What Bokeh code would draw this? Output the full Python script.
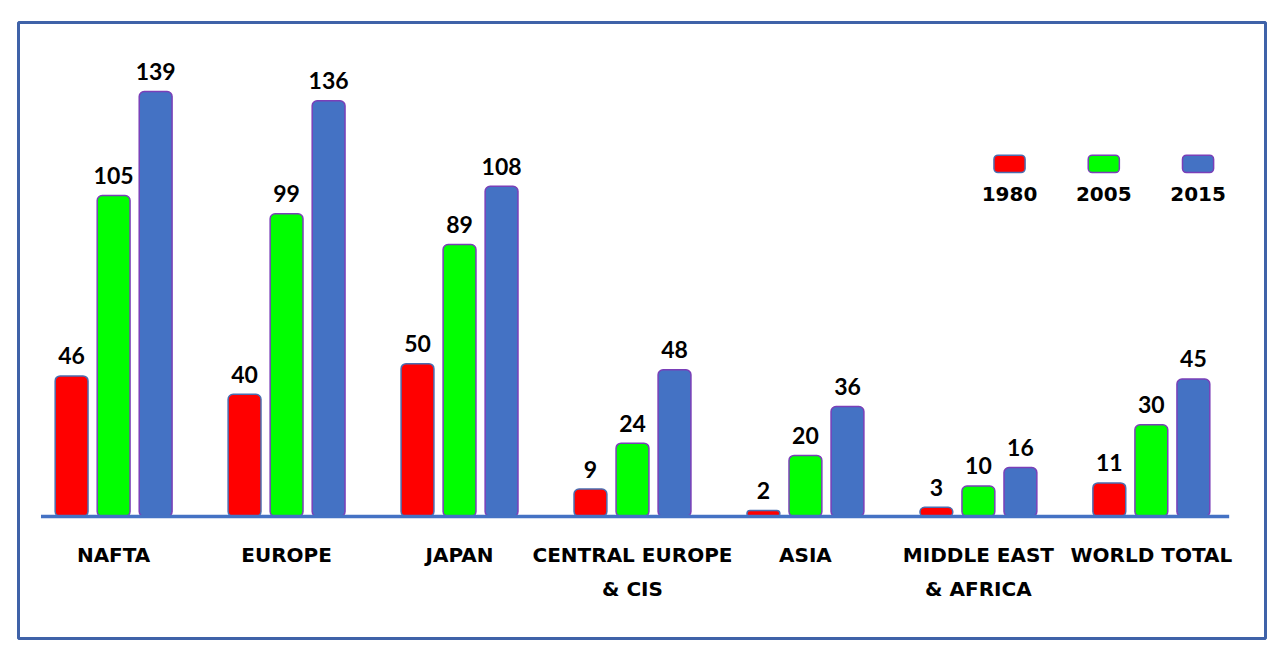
import numpy as np
from bokeh.plotting import figure
from bokeh.models import ColumnDataSource, Range1d
from bokeh.core.properties import value
from bokeh.embed import file_html
from bokeh.resources import INLINE

# ---- data ----
categories = ["NAFTA", "EUROPE", "JAPAN", "CENTRAL EUROPE\n& CIS", "ASIA",
              "MIDDLE EAST\n& AFRICA", "WORLD TOTAL"]
years = ["1980", "2005", "2015"]
v1980 = [46, 40, 50, 9, 2, 3, 11]
v2005 = [105, 99, 89, 24, 20, 10, 30]
v2015 = [139, 136, 108, 48, 36, 16, 45]

series = [v1980, v2005, v2015]
fills = ["#ff0000", "#00ff00", "#4472c4"]
edges = ["#4a6db0", "#7a3fb8", "#7a3fb8"]

n = len(categories)
idx = np.arange(n)
step = 0.243
bw = 0.19

p = figure(width=1271, height=648, output_backend="svg", toolbar_location=None,
           x_axis_location=None, y_axis_location=None,
           x_range=Range1d(-0.55, n - 1 + 0.66), y_range=Range1d(-39.9, 161.6),
           min_border_left=18, min_border_right=6, min_border_top=22, min_border_bottom=10)
p.grid.visible = False
p.outline_line_color = "#3f62a8"
p.outline_line_width = 3
p.background_fill_color = "white"
p.border_fill_color = "white"

for k, (vals, fill, edge) in enumerate(zip(series, fills, edges)):
    src = ColumnDataSource(dict(x=idx + (k - 1) * step, top=vals,
                                lab=[str(v) for v in vals]))
    p.vbar(x="x", top="top", bottom=0, width=bw, source=src, fill_color=fill,
           line_color=edge, line_width=1.5, border_radius=5)
    p.text(x="x", y="top", text="lab", source=src, text_align="center",
           text_baseline="alphabetic", y_offset=-20, text_font=value("Lato"),
           text_font_style="bold", text_font_size="23px", text_color="black")

# baseline
p.line(x=[-0.42, n - 1 + 0.45], y=[0, 0], line_color="#4472c4", line_width=3.5)

# category labels
csrc = ColumnDataSource(dict(x=idx, y=[0] * n, t=categories))
p.text(x="x", y="y", text="t", source=csrc, text_align="center", text_baseline="top",
       y_offset=26, text_font=value("DejaVu Sans"), text_font_style="bold",
       text_font_size="20px", text_color="black", text_line_height=1.45)

# legend (label under swatch)
lx = [n - 1 - 0.82 + i * 0.545 for i in range(len(years))]
lsrc = ColumnDataSource(dict(l=[x - 0.09 for x in lx], r=[x + 0.09 for x in lx],
                             b=[112.5] * 3, t=[118.2] * 3, x=lx, y=[105.5] * 3,
                             lab=years, fill=fills, edge=edges))
p.quad(left="l", right="r", bottom="b", top="t", source=lsrc, fill_color="fill",
       line_color="edge", line_width=1.5, border_radius=4)
p.text(x="x", y="y", text="lab", source=lsrc, text_align="center", text_baseline="middle",
       text_font=value("DejaVu Sans"), text_font_style="bold", text_font_size="20px",
       text_color="black")

open("out.html", "w").write(file_html(p, INLINE))
